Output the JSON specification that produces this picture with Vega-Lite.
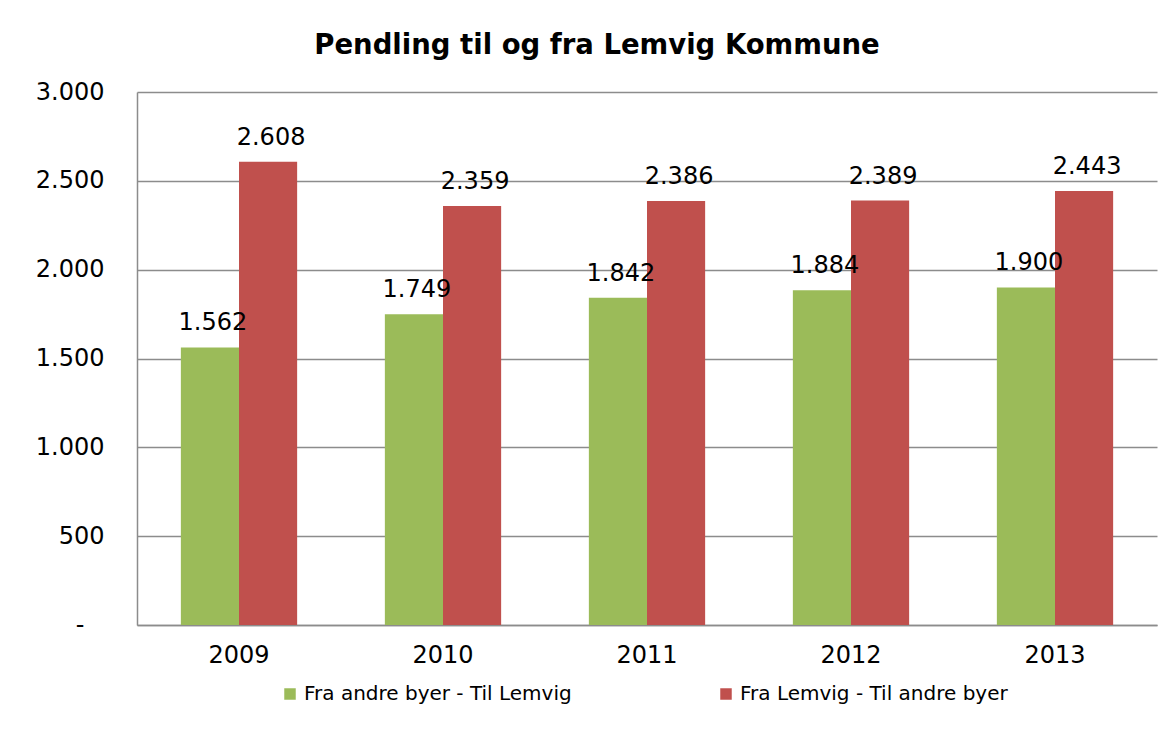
{
  "$schema": "https://vega.github.io/schema/vega-lite/v6.json",
  "autosize": {"type": "none"},
  "width": 1020,
  "height": 533,
  "padding": {"left": 137, "top": 92, "right": 17, "bottom": 111},
  "background": "white",
  "title": {
    "text": "Pendling til og fra Lemvig Kommune",
    "font": "DejaVu Sans",
    "fontSize": 27.5,
    "fontWeight": "bold",
    "color": "black",
    "anchor": "middle",
    "dx": -50,
    "offset": 21
  },
  "data": {
    "values": [
      {"year": "2009", "series": "Fra andre byer - Til Lemvig", "value": 1562},
      {"year": "2009", "series": "Fra Lemvig - Til andre byer", "value": 2608},
      {"year": "2010", "series": "Fra andre byer - Til Lemvig", "value": 1749},
      {"year": "2010", "series": "Fra Lemvig - Til andre byer", "value": 2359},
      {"year": "2011", "series": "Fra andre byer - Til Lemvig", "value": 1842},
      {"year": "2011", "series": "Fra Lemvig - Til andre byer", "value": 2386},
      {"year": "2012", "series": "Fra andre byer - Til Lemvig", "value": 1884},
      {"year": "2012", "series": "Fra Lemvig - Til andre byer", "value": 2389},
      {"year": "2013", "series": "Fra andre byer - Til Lemvig", "value": 1900},
      {"year": "2013", "series": "Fra Lemvig - Til andre byer", "value": 2443}
    ]
  },
  "encoding": {
    "x": {
      "field": "year",
      "type": "nominal",
      "scale": {"paddingInner": 0.43, "paddingOuter": 0.215},
      "axis": {
        "title": null,
        "labelAngle": 0,
        "labelFont": "DejaVu Sans",
        "labelFontSize": 24,
        "labelColor": "black",
        "labelPadding": 18,
        "ticks": false,
        "domainColor": "#8c8c8c",
        "domainWidth": 1.5
      }
    },
    "xOffset": {
      "field": "series",
      "type": "nominal",
      "scale": {"domain": ["Fra andre byer - Til Lemvig", "Fra Lemvig - Til andre byer"], "paddingInner": 0, "paddingOuter": 0}
    },
    "y": {
      "field": "value",
      "type": "quantitative",
      "scale": {"domain": [0, 3000], "nice": false},
      "axis": {
        "title": null,
        "values": [0, 500, 1000, 1500, 2000, 2500, 3000],
        "labelExpr": "datum.value == 0 ? '-\u2007\u2009\u200b' : format(datum.value, ',')",
        "labelFont": "DejaVu Sans",
        "labelFontSize": 24,
        "labelColor": "black",
        "labelPadding": 33,
        "ticks": false,
        "grid": true,
        "gridColor": "#8c8c8c",
        "gridWidth": 1.5,
        "domainColor": "#8c8c8c",
        "domainWidth": 1.5
      }
    }
  },
  "layer": [
    {
      "mark": {"type": "bar"},
      "encoding": {
        "color": {
          "field": "series",
          "type": "nominal",
          "scale": {"domain": ["Fra andre byer - Til Lemvig", "Fra Lemvig - Til andre byer"], "range": ["#9BBB59", "#C0504D"]},
          "legend": {
            "title": null,
            "orient": "none",
            "direction": "horizontal",
            "legendX": 143,
            "legendY": 592,
            "symbolType": "square",
            "symbolSize": 132,
            "symbolStrokeWidth": 0,
            "labelFont": "DejaVu Sans",
            "labelFontSize": 20,
            "labelColor": "black",
            "labelOffset": 4,
            "columnPadding": 144,
            "labelLimit": 400
          }
        }
      }
    },
    {
      "mark": {"type": "text", "baseline": "alphabetic", "align": "center", "dy": -17, "dx": 3, "font": "DejaVu Sans", "fontSize": 24, "color": "black"},
      "encoding": {
        "text": {"field": "value", "type": "quantitative", "format": ","}
      }
    }
  ],
  "config": {
    "locale": {"number": {"decimal": ",", "thousands": ".", "grouping": [3], "currency": ["", " kr."]}},
    "view": {"stroke": null}
  }
}
